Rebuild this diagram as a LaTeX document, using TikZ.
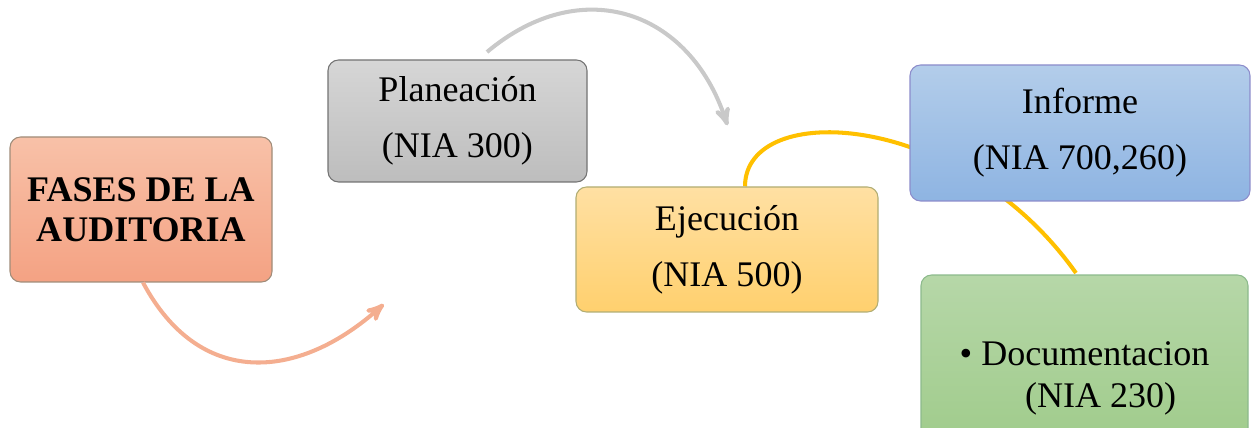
\documentclass[tikz,border=0pt]{standalone}
\usepackage{fontspec}
\setmainfont{Liberation Serif}
\usepackage{tikz}
\usetikzlibrary{arrows, positioning, backgrounds}

\definecolor{salmonA}{HTML}{F8C1A8}
\definecolor{salmonB}{HTML}{F4A283}
\definecolor{greyA}{HTML}{D6D6D6}
\definecolor{greyB}{HTML}{BDBDBD}
\definecolor{goldA}{HTML}{FFE0A3}
\definecolor{goldB}{HTML}{FFD06E}
\definecolor{blueA}{HTML}{B3CDEA}
\definecolor{blueB}{HTML}{8EB4E2}
\definecolor{greenA}{HTML}{B6D7A8}
\definecolor{greenB}{HTML}{9BC985}
\definecolor{arcSalmon}{HTML}{F4AE90}
\definecolor{arcGrey}{HTML}{C9C9C9}
\definecolor{arcGold}{HTML}{FFC000}

\begin{document}
\begin{tikzpicture}[>=stealth', shorten >=1pt,
  phase/.style = {rectangle, rounded corners=6pt, line width=0.6pt, align=center,
                  font=\fontsize{20.5}{32}\selectfont, inner sep=0pt},
  curve/.style = {line width=2.3pt, ->}]
\useasboundingbox (0,0) rectangle (25.02,8.54);
\clip (0,0) rectangle (25.02,8.54);
\node[phase, draw=black!50!brown!60, top color=salmonA, bottom color=salmonB,
      minimum width=5.24cm, minimum height=2.9cm,
      font=\fontsize{20.5}{23}\selectfont\bfseries](fases) at (2.82,4.35){FASES DE LA\\AUDITORIA};
\node[phase, draw=black!55, top color=greyA, bottom color=greyB,
      minimum width=5.18cm, minimum height=2.44cm](plan) at (9.15,6.12){Planeación\\(NIA 300)};
\node[phase, draw=black!50!yellow!70, top color=goldA, bottom color=goldB,
      minimum width=6.04cm, minimum height=2.5cm](ejec) at (14.54,3.55){Ejecución\\(NIA 500)};
\node[phase, draw=black!45!blue!45, top color=blueA, bottom color=blueB,
      minimum width=6.8cm, minimum height=2.72cm](inf) at (21.6,5.88){Informe\\(NIA 700,260)};
\node[phase, draw=green!40!black!45, top color=greenA, bottom color=greenB,
      minimum width=6.54cm, minimum height=4.12cm,
      font=\fontsize{20.5}{24}\selectfont](doc) at (21.69,0.98){\textbullet\ Documentacion\\\hspace{0.9em}(NIA 230)};
\coordinate (s1) at (7.7,2.48);
\coordinate (g0) at (9.74,7.5);
\coordinate (g1) at (14.56,6.0);
\draw[curve, draw=arcSalmon, color=arcSalmon] (fases.south) ++(0.04,0) to [out=-62, in=-138, looseness=1.25] (s1);
\draw[curve, draw=arcGrey, color=arcGrey] (g0) to [out=40, in=108, looseness=1.25] (g1);
\begin{pgfonlayer}{background}
\draw[line width=2.3pt, arcGold] ([xshift=0.36cm]ejec.north) .. controls +(0,1.74) and +(-2.34,3.3) .. ([xshift=-0.15cm]doc.north);
\end{pgfonlayer}
\end{tikzpicture}
\end{document}
